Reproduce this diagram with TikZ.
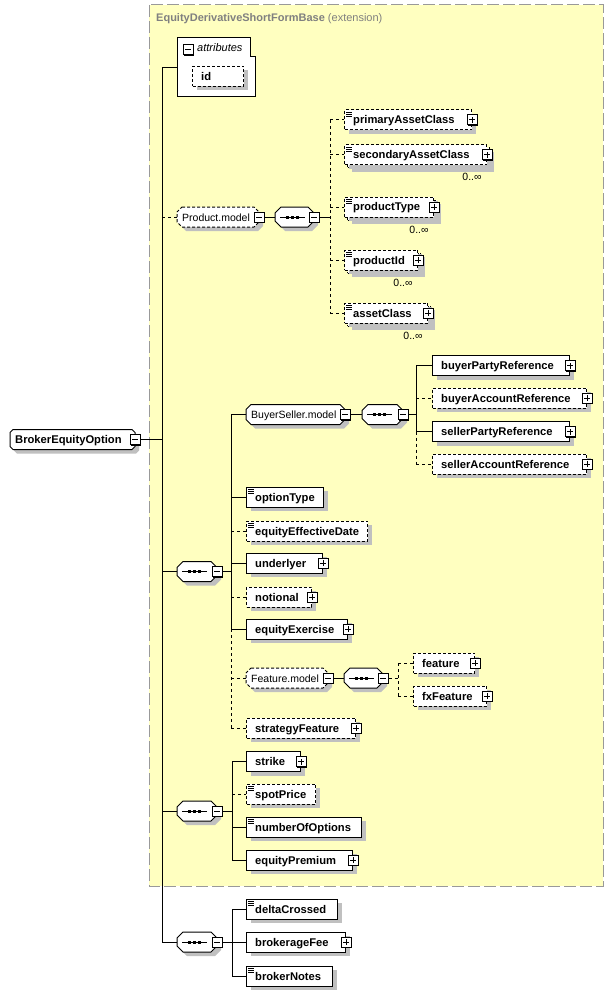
\documentclass[tikz,border=0pt]{standalone}
\usepackage{fontspec}
\setmainfont{Liberation Sans}
\usetikzlibrary{shadows}
\definecolor{extbg}{HTML}{FFFFC0}
\definecolor{shadowgray}{HTML}{C0C0C0}
\definecolor{titlegray}{HTML}{808080}
\definecolor{extborder}{HTML}{999999}
\tikzset{
  ebox/.style={draw=black, fill=white, line width=1pt, minimum height=20pt, inner sep=0pt, anchor=west,
    general shadow={fill=shadowgray, shadow xshift=4pt, shadow yshift=-4pt}},
  opt/.style={dash pattern=on 3pt off 2pt},
  conn/.style={line width=1pt},
  optconn/.style={line width=1pt, dash pattern=on 3pt off 3pt},
  etext/.style={font=\fontsize{11.2}{13}\selectfont\bfseries, anchor=base west, inner sep=0pt},
  mtext/.style={font=\fontsize{10.5}{12}\selectfont, anchor=base west, inner sep=0pt},
  occ/.style={font=\fontsize{10.5}{12}\selectfont, anchor=base, inner sep=0pt},
  pmbox/.style={draw=black, fill=white, line width=1pt, minimum size=10pt, inner sep=0pt,
    general shadow={fill=black, shadow xshift=1pt, shadow yshift=-1pt}},
  pmsign/.style={line width=1pt},
}
\newcommand\minusat[2]{%
  \node[pmbox] (#1) at (#2) {};%
  \draw[pmsign] ([xshift=2.5pt]#1.west) -- ([xshift=-2.5pt]#1.east);%
}
\newcommand\plusat[2]{%
  \node[pmbox] (#1) at (#2) {};%
  \draw[pmsign] ([xshift=2.5pt]#1.west) -- ([xshift=-2.5pt]#1.east);%
  \draw[pmsign] ([yshift=2.5pt]#1.south) -- ([yshift=-2.5pt]#1.north);%
}
\newcommand\docicon[1]{%
  \draw[line width=0.8pt] ([xshift=2pt,yshift=-2.5pt]#1.north west) -- ++(5.5,0);%
  \draw[line width=0.8pt] ([xshift=2pt,yshift=-4.5pt]#1.north west) -- ++(5.5,0);%
  \draw[line width=0.8pt] ([xshift=2pt,yshift=-6.5pt]#1.north west) -- ++(5.5,0);%
}
\newcommand\elem[6]{%
  \pgfmathsetmacro\ew{#3-#2}%
  \node[ebox,#5,minimum width=\ew pt] (#1) at (#2,#4) {};%
  \node[etext] at ([xshift=9pt,yshift=-4pt]#1.west) {#6};%
}
\newcommand\multielem[6]{%
  \pgfmathsetmacro\ew{#3-#2}%
  \node[ebox,#5,minimum width=\ew pt] (#1b) at (#2+3,#4+3) {};%
  \elem{#1}{#2}{#3}{#4}{#5}{#6}%
  \node[occ] at ([xshift=-15pt,yshift=-26pt]#1.east) {0..∞};%
}
\newcommand\octpath[5]{%
  \fill[shadowgray] (#1+#4+4,#3-6) -- (#2-#4+4,#3-6) -- (#2+4,#3-6+#4) -- (#2+4,#3+14-#4)
    -- (#2-#4+4,#3+14) -- (#1+#4+4,#3+14) -- (#1+4,#3+14-#4) -- (#1+4,#3-6+#4) -- cycle;%
  \draw[line width=1pt, fill=white, #5] (#1+#4,#3-10) -- (#2-#4,#3-10) -- (#2,#3-10+#4) -- (#2,#3+10-#4)
    -- (#2-#4,#3+10) -- (#1+#4,#3+10) -- (#1,#3+10-#4) -- (#1,#3-10+#4) -- cycle;%
}
\newcommand\modelgroup[6]{%
  \octpath{#2}{#3}{#4}{5}{#5}%
  \pgfmathsetmacro\ew{#3-#2}%
  \node[anchor=west, minimum width=\ew pt, minimum height=20pt, inner sep=0pt] (#1) at (#2,#4) {};%
  \node[mtext] at ([xshift=5pt,yshift=-4pt]#1.west) {#6};%
  \minusat{#1M}{#1.east}%
}
\newcommand\seqgroup[4]{%
  \octpath{#2}{#3}{#4}{6}{solid}%
  \pgfmathsetmacro\ew{#3-#2}%
  \node[anchor=west, minimum width=\ew pt, minimum height=20pt, inner sep=0pt] (#1) at (#2,#4) {};%
  \draw[conn] ([xshift=5pt]#1.west) -- ([xshift=30pt]#1.west);%
  \fill ([xshift=11pt,yshift=1.5pt]#1.west) rectangle ++(3,3);%
  \fill ([xshift=16pt,yshift=1.5pt]#1.west) rectangle ++(3,3);%
  \fill ([xshift=21pt,yshift=1.5pt]#1.west) rectangle ++(3,3);%
  \minusat{#1M}{#1.east}%
}
\begin{document}
\begin{tikzpicture}[x=1pt,y=-1pt]
\useasboundingbox (0,0) rectangle (614,995);
\fill[white] (0,0) rectangle (614,995);
% extension frame
\draw[extborder, line width=1pt, dash pattern=on 12pt off 4pt, fill=extbg] (149,5) rectangle (603,886);
\node[anchor=base west, inner sep=0pt, text=titlegray, font=\fontsize{11}{13}\selectfont] (title) at (156,22)
  {\textbf{EquityDerivativeShortFormBase} (extension)};

% trunk
\coordinate (tTop) at (162,68);
\coordinate (tBot) at (162,942);
\draw[conn] (tTop) -- (tBot);

% attributes
\draw[line width=1pt, fill=white] (177,38) -- (250,38) -- (250,57) -- (255,57) -- (255,97) -- (177,97) -- cycle;
\node[anchor=north west, minimum width=78pt, minimum height=59pt, inner sep=0pt] (attr) at (177,38) {};
\minusat{attrM}{188,50}
\node[anchor=base west, inner sep=0pt, font=\fontsize{11}{13}\selectfont\itshape] at (197,52) {attributes};
\elem{id}{192}{243}{76.5}{opt}{id}
\draw[conn] (tTop) -- (tTop -| attr.west);

% root element
\octpath{10}{135}{439.5}{3}{solid}
\node[anchor=west, minimum width=125pt, minimum height=20pt, inner sep=0pt] (beo) at (10,439.5) {};
\node[etext] at ([xshift=5pt,yshift=-4pt]beo.west) {BrokerEquityOption};
\minusat{beoM}{beo.east}
\draw[conn] (beoM.east) -- (beoM.east -| tTop);

% Product.model
\modelgroup{pm}{177}{259}{217}{opt}{Product.model}
\draw[optconn] (pm.west -| tTop) -- (pm.west);
\seqgroup{seqP}{275}{314}{217}
\draw[conn] (pmM.east) -- (seqP.west);
\coordinate (busPt) at (330,120);
\coordinate (busPb) at (330,313);
\draw[conn] (seqPM.east) -- (seqPM.east -| busPt);
\draw[optconn] (busPt) -- (busPb);
\elem{pac}{344}{471}{120}{opt}{primaryAssetClass}
\docicon{pac}\plusat{pacP}{pac.east}
\multielem{sac}{344}{486}{155}{opt}{secondaryAssetClass}
\docicon{sac}\plusat{sacP}{sac.east}
\multielem{pt}{344}{433}{207}{opt}{productType}
\docicon{pt}\plusat{ptP}{pt.east}
\multielem{pid}{344}{417}{260}{opt}{productId}
\docicon{pid}\plusat{pidP}{pid.east}
\multielem{ac}{344}{427}{313}{opt}{assetClass}
\docicon{ac}\plusat{acP}{ac.east}
\foreach \n in {pac,sac,pt,pid,ac} {\draw[optconn] (\n.west -| busPt) -- (\n.west);}

% sequence 1
\seqgroup{seqA}{177}{217}{571.5}
\draw[conn] (seqA.west -| tTop) -- (seqA.west);
\coordinate (busAt) at (231,414.5);
\coordinate (busAm) at (231,629);
\coordinate (busAb) at (231,728);
\draw[conn] (seqAM.east) -- (seqAM.east -| busAt);
\draw[conn] (busAt) -- (busAm);
\draw[optconn] (busAm) -- (busAb);

% BuyerSeller.model
\modelgroup{bs}{246}{345}{414.5}{solid}{BuyerSeller.model}
\draw[conn] (bs.west -| busAt) -- (bs.west);
\seqgroup{seqB}{362}{403}{414.5}
\draw[conn] (bsM.east) -- (seqB.west);
\coordinate (busBt) at (416,365.5);
\coordinate (busBm) at (416,431.5);
\coordinate (busBb) at (416,464);
\draw[conn] (seqBM.east) -- (seqBM.east -| busBt);
\draw[conn] (busBt) -- (busBm);
\draw[optconn] (busBm) -- (busBb);
\elem{bpr}{432}{569}{365.5}{solid}{buyerPartyReference}\plusat{bprP}{bpr.east}
\elem{bar}{432}{586}{398}{opt}{buyerAccountReference}\plusat{barP}{bar.east}
\elem{spr}{432}{569}{431.5}{solid}{sellerPartyReference}\plusat{sprP}{spr.east}
\elem{sar}{432}{586}{464}{opt}{sellerAccountReference}\plusat{sarP}{sar.east}
\draw[conn] (bpr.west -| busBt) -- (bpr.west);
\draw[optconn] (bar.west -| busBt) -- (bar.west);
\draw[conn] (spr.west -| busBt) -- (spr.west);
\draw[optconn] (sar.west -| busBt) -- (sar.west);

\elem{ot}{246}{323}{497}{solid}{optionType}\docicon{ot}
\elem{eed}{246}{367}{531}{opt}{equityEffectiveDate}\docicon{eed}
\elem{und}{246}{322}{563}{solid}{underlyer}\plusat{undP}{und.east}
\elem{nom}{246}{311}{597}{opt}{notional}\plusat{nomP}{nom.east}
\elem{eex}{246}{347}{629}{solid}{equityExercise}\plusat{eexP}{eex.east}
\draw[conn] (ot.west -| busAt) -- (ot.west);
\draw[optconn] (eed.west -| busAt) -- (eed.west);
\draw[conn] (und.west -| busAt) -- (und.west);
\draw[optconn] (nom.west -| busAt) -- (nom.west);
\draw[conn] (eex.west -| busAt) -- (eex.west);

% Feature.model
\modelgroup{fm}{246}{328}{678}{opt}{Feature.model}
\draw[optconn] (fm.west -| busAt) -- (fm.west);
\seqgroup{seqF}{344}{383}{678}
\draw[conn] (fmM.east) -- (seqF.west);
\coordinate (busFt) at (398,663);
\coordinate (busFb) at (398,696);
\draw[optconn] (seqFM.east) -- (seqFM.east -| busFt);
\draw[optconn] (busFt) -- (busFb);
\elem{feat}{413}{474}{663}{opt}{feature}\plusat{featP}{feat.east}
\elem{fxf}{413}{486}{696}{opt}{fxFeature}\plusat{fxfP}{fxf.east}
\draw[optconn] (feat.west -| busFt) -- (feat.west);
\draw[optconn] (fxf.west -| busFt) -- (fxf.west);

\elem{sf}{246}{355}{728}{opt}{strategyFeature}\plusat{sfP}{sf.east}
\draw[optconn] (sf.west -| busAt) -- (sf.west);

% sequence 2
\seqgroup{seqC}{177}{217}{811}
\draw[conn] (seqC.west -| tTop) -- (seqC.west);
\coordinate (busCt) at (232,761.5);
\coordinate (busCb) at (232,860);
\draw[conn] (seqCM.east) -- (seqCM.east -| busCt);
\draw[conn] (busCt) -- (busCb);
\elem{stk}{246}{300}{761.5}{solid}{strike}\plusat{stkP}{stk.east}
\elem{spp}{246}{315}{794}{opt}{spotPrice}\docicon{spp}
\elem{noo}{246}{361}{827}{solid}{numberOfOptions}\docicon{noo}
\elem{epr}{246}{352}{860}{solid}{equityPremium}\plusat{eprP}{epr.east}
\draw[conn] (stk.west -| busCt) -- (stk.west);
\draw[optconn] (spp.west -| busCt) -- (spp.west);
\draw[conn] (noo.west -| busCt) -- (noo.west);
\draw[conn] (epr.west -| busCt) -- (epr.west);

% sequence 3
\seqgroup{seqD}{177}{217}{942}
\draw[conn] (seqD.west -| tTop) -- (seqD.west);
\coordinate (busDt) at (232,909);
\coordinate (busDb) at (232,976);
\draw[conn] (seqDM.east) -- (seqDM.east -| busDt);
\draw[conn] (busDt) -- (busDb);
\elem{dc}{246}{337}{909}{solid}{deltaCrossed}\docicon{dc}
\elem{bf}{246}{345}{942}{solid}{brokerageFee}\plusat{bfP}{bf.east}
\elem{bn}{246}{332}{976}{solid}{brokerNotes}\docicon{bn}
\draw[conn] (dc.west -| busDt) -- (dc.west);
\draw[conn] (bf.west -| busDt) -- (bf.west);
\draw[conn] (bn.west -| busDt) -- (bn.west);
\end{tikzpicture}
\end{document}
